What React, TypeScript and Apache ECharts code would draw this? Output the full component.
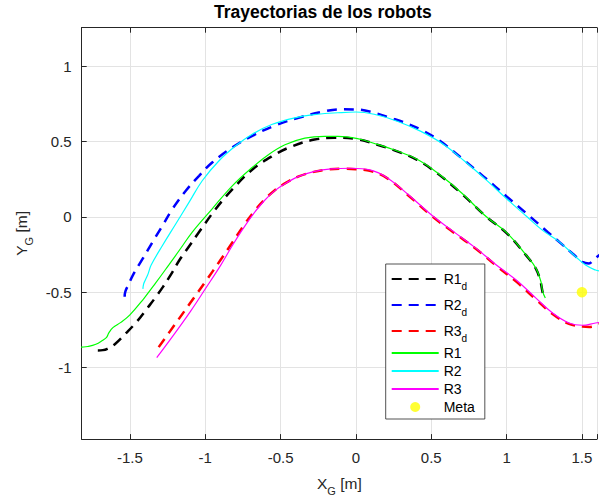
import React, { useEffect, useRef } from 'react';
import * as echarts from 'echarts';

// Axis limits (metres, equal scaling in x and y)
const X_MIN = -1.82;
const X_MAX = 1.6;
const Y_MIN = -1.474;
const Y_MAX = 1.254;

const SERIES_NAMES = ['R1d', 'R2d', 'R3d', 'R1', 'R2', 'R3', 'Meta'];

// Desired trajectories [x, y]
const r1dPath: number[][] = [
  [-1.713, -0.886], [-1.68, -0.884], [-1.65, -0.875], [-1.6, -0.845], [-1.524, -0.77],
  [-1.45, -0.69], [-1.38, -0.6], [-1.338, -0.545], [-1.283, -0.468], [-1.22, -0.37],
  [-1.173, -0.29], [-1.1, -0.185], [-1.041, -0.101], [-0.932, 0.05], [-0.822, 0.18],
  [-0.691, 0.31], [-0.559, 0.4], [-0.428, 0.466], [-0.274, 0.512], [-0.142, 0.524],
  [0.0, 0.516], [0.143, 0.478], [0.274, 0.434], [0.406, 0.378], [0.538, 0.29],
  [0.7, 0.155], [0.866, 0.0], [1.0, -0.108], [1.13, -0.256], [1.195, -0.345],
  [1.225, -0.43], [1.238, -0.495], [1.25, -0.54],
];
const r2dPath: number[][] = [
  [-1.535, -0.53], [-1.53, -0.495], [-1.505, -0.44], [-1.48, -0.386], [-1.414, -0.276],
  [-1.349, -0.166], [-1.283, -0.057], [-1.217, 0.053], [-1.129, 0.173], [-1.041, 0.272],
  [-0.954, 0.36], [-0.822, 0.459], [-0.691, 0.535], [-0.537, 0.605], [-0.362, 0.662],
  [-0.208, 0.7], [-0.099, 0.713], [0.011, 0.711], [0.121, 0.69], [0.23, 0.656],
  [0.34, 0.618], [0.45, 0.568], [0.559, 0.502], [0.7, 0.39], [0.85, 0.265],
  [1.0, 0.135], [1.158, 0.0], [1.272, -0.101], [1.349, -0.166], [1.437, -0.243],
  [1.503, -0.298], [1.546, -0.309], [1.579, -0.283], [1.62, -0.25],
];
const r3dPath: number[][] = [
  [-1.309, -0.864], [-1.2, -0.712], [-1.1, -0.572], [-1.0, -0.432], [-0.9, -0.288],
  [-0.82, -0.17], [-0.75, -0.065], [-0.68, 0.03], [-0.61, 0.11], [-0.54, 0.175],
  [-0.46, 0.228], [-0.38, 0.268], [-0.28, 0.298], [-0.18, 0.314], [-0.08, 0.319],
  [0.0, 0.316], [0.099, 0.303], [0.209, 0.255], [0.35, 0.14], [0.51, 0.0],
  [0.65, -0.105], [0.8, -0.215], [0.932, -0.325], [1.064, -0.43], [1.195, -0.548],
  [1.305, -0.645], [1.414, -0.71], [1.503, -0.727], [1.55, -0.73], [1.62, -0.71],
];

// Measured robot trajectories [x, y]
const r1Path: number[][] = [
  [-1.86, -0.866], [-1.819, -0.864], [-1.78, -0.86], [-1.726, -0.845], [-1.68, -0.818],
  [-1.655, -0.8], [-1.64, -0.77], [-1.613, -0.735], [-1.56, -0.7], [-1.5, -0.65],
  [-1.414, -0.55], [-1.33, -0.44], [-1.239, -0.315], [-1.16, -0.205], [-1.086, -0.101],
  [-0.954, 0.053], [-0.822, 0.204], [-0.691, 0.325], [-0.581, 0.412], [-0.471, 0.478],
  [-0.339, 0.522], [-0.208, 0.534], [-0.12, 0.534], [0.011, 0.518], [0.143, 0.48],
  [0.274, 0.436], [0.406, 0.382], [0.538, 0.294], [0.7, 0.16], [0.866, 0.0],
  [1.0, -0.105], [1.13, -0.254], [1.195, -0.342], [1.228, -0.43], [1.239, -0.495],
  [1.257, -0.539],
];
const r2Path: number[][] = [
  [-1.414, -0.478], [-1.41, -0.45], [-1.403, -0.43], [-1.38, -0.38], [-1.359, -0.32],
  [-1.283, -0.189], [-1.195, -0.046], [-1.107, 0.097], [-1.02, 0.239], [-0.91, 0.37],
  [-0.8, 0.469], [-0.691, 0.546], [-0.559, 0.612], [-0.405, 0.656], [-0.252, 0.68],
  [-0.12, 0.69], [0.0, 0.695], [0.121, 0.68], [0.274, 0.634], [0.428, 0.568],
  [0.582, 0.48], [0.72, 0.37], [0.87, 0.24], [1.0, 0.12], [1.13, 0.005],
  [1.239, -0.09], [1.35, -0.166], [1.459, -0.265], [1.524, -0.32], [1.59, -0.353],
  [1.62, -0.36],
];
const r3Path: number[][] = [
  [-1.322, -0.934], [-1.224, -0.803], [-1.098, -0.627], [-0.997, -0.474], [-0.897, -0.32],
  [-0.82, -0.19], [-0.75, -0.08], [-0.68, 0.02], [-0.61, 0.105], [-0.54, 0.172],
  [-0.46, 0.226], [-0.38, 0.268], [-0.28, 0.3], [-0.164, 0.318], [-0.033, 0.322],
  [0.099, 0.31], [0.209, 0.258], [0.35, 0.145], [0.51, 0.005], [0.65, -0.1],
  [0.8, -0.211], [0.932, -0.32], [1.064, -0.419], [1.195, -0.539], [1.305, -0.638],
  [1.414, -0.704], [1.503, -0.719], [1.59, -0.704], [1.62, -0.7],
];

// Goal position
const metaPoint: number[][] = [[1.5, -0.5]];

const FONT = '"Liberation Sans", Arial, Helvetica, sans-serif';
const AXIS_COLOR = '#262626';
const GRID_COLOR = '#e3e3e3';

const onHalfStep = (v: number) => Math.abs(v * 2 - Math.round(v * 2)) < 1e-6;
const tickLabel = (v: number) => (onHalfStep(v) ? String(Math.round(v * 10) / 10) : '');

const subRich = (size: number, lh: number) => ({
  fontFamily: FONT,
  fontSize: size,
  lineHeight: lh,
  verticalAlign: 'bottom',
  color: AXIS_COLOR,
});

const dashed = (name: string, data: number[][], color: string) => ({
  type: 'line',
  name,
  data,
  symbol: 'none',
  showSymbol: false,
  smooth: 0.4,
  clip: true,
  z: 2,
  itemStyle: { color },
  lineStyle: { color, width: 2.5, type: [10, 7], cap: 'butt' },
});

const solid = (name: string, data: number[][], color: string) => ({
  type: 'line',
  name,
  data,
  symbol: 'none',
  showSymbol: false,
  smooth: 0.4,
  clip: true,
  z: 3,
  itemStyle: { color },
  lineStyle: { color, width: 1.2, type: 'solid' },
});

const axisCommon = {
  axisLine: { show: true, onZero: false, lineStyle: { color: AXIS_COLOR, width: 1 } },
  axisTick: { show: true, inside: true, length: 5, lineStyle: { color: AXIS_COLOR, width: 1 } },
};

// Line entries show only the line sample; the goal entry keeps its dot.
const legendData = SERIES_NAMES.map((name) =>
  name === 'Meta' ? { name } : { name, itemStyle: { opacity: 0 } }
);

export default function App() {
  const ref = useRef<HTMLDivElement>(null);

  useEffect(() => {
    if (!ref.current) return;
    const chart = echarts.init(ref.current, null, { renderer: 'svg' });
    chart.setOption({
      animation: false,
      backgroundColor: '#ffffff',
      title: {
        text: 'Trayectorias de los robots',
        left: 214,
        top: 3,
        padding: 0,
        textStyle: { fontFamily: FONT, fontSize: 17.5, fontWeight: 'bold', color: '#000' },
      },
      grid: { left: 81.7, top: 27.7, width: 519.8, height: 414.6, containLabel: false },
      xAxis: [
        {
          type: 'value',
          position: 'bottom',
          min: X_MIN,
          max: X_MAX,
          splitNumber: 7,
          name: 'X{sub|G} [m]',
          nameLocation: 'middle',
          nameGap: 27,
          nameTextStyle: {
            fontFamily: FONT,
            fontSize: 15.5,
            lineHeight: 18,
            color: AXIS_COLOR,
            rich: { sub: subRich(11, 26) },
          },
          ...axisCommon,
          axisLabel: {
            formatter: tickLabel,
            margin: 11,
            fontFamily: FONT,
            fontSize: 15,
            color: AXIS_COLOR,
          },
          splitLine: { show: true, lineStyle: { color: GRID_COLOR, width: 1 } },
        },
        {
          type: 'value',
          position: 'top',
          min: X_MIN,
          max: X_MAX,
          splitNumber: 7,
          ...axisCommon,
          axisLabel: { show: false },
          splitLine: { show: false },
        },
      ],
      yAxis: [
        {
          type: 'value',
          position: 'left',
          min: Y_MIN,
          max: Y_MAX,
          splitNumber: 6,
          name: 'Y{sub|G} [m]',
          nameLocation: 'middle',
          nameGap: 47,
          nameTextStyle: {
            fontFamily: FONT,
            fontSize: 15.5,
            lineHeight: 18,
            color: AXIS_COLOR,
            rich: { sub: subRich(11, 26) },
          },
          ...axisCommon,
          axisLabel: {
            formatter: tickLabel,
            margin: 10,
            fontFamily: FONT,
            fontSize: 15,
            color: AXIS_COLOR,
          },
          splitLine: { show: true, lineStyle: { color: GRID_COLOR, width: 1 } },
        },
      ],
      legend: {
        orient: 'vertical',
        left: 385.7,
        top: 264,
        selectedMode: false,
        data: legendData,
        itemWidth: 47,
        itemHeight: 10,
        itemGap: 2,
        padding: [3, 10, 4, 5],
        backgroundColor: '#ffffff',
        borderColor: AXIS_COLOR,
        borderWidth: 0.8,
        borderRadius: 0,
        formatter: (name: string) =>
          name.endsWith('d') ? `{m|${name.slice(0, -1)}}{sub|d}` : name,
        textStyle: {
          fontFamily: FONT,
          fontSize: 14,
          lineHeight: 16,
          color: '#000',
          rich: {
            m: { fontFamily: FONT, fontSize: 14, lineHeight: 16, color: '#000' },
            sub: { fontFamily: FONT, fontSize: 10, lineHeight: 24, verticalAlign: 'bottom', color: '#000' },
          },
        },
      },
      series: [
        dashed('R1d', r1dPath, '#000000'),
        dashed('R2d', r2dPath, '#0000ff'),
        dashed('R3d', r3dPath, '#ff0000'),
        solid('R1', r1Path, '#00ff00'),
        solid('R2', r2Path, '#00ffff'),
        solid('R3', r3Path, '#ff00ff'),
        {
          type: 'scatter',
          name: 'Meta',
          data: metaPoint,
          symbol: 'circle',
          symbolSize: 10.5,
          z: 4,
          itemStyle: { color: '#ffff00' },
        },
      ],
    });
    return () => chart.dispose();
  }, []);

  return (
    <div
      ref={ref}
      style={{ position: 'fixed', left: 0, top: 0, width: 600, height: 501, background: '#fff' }}
    />
  );
}
